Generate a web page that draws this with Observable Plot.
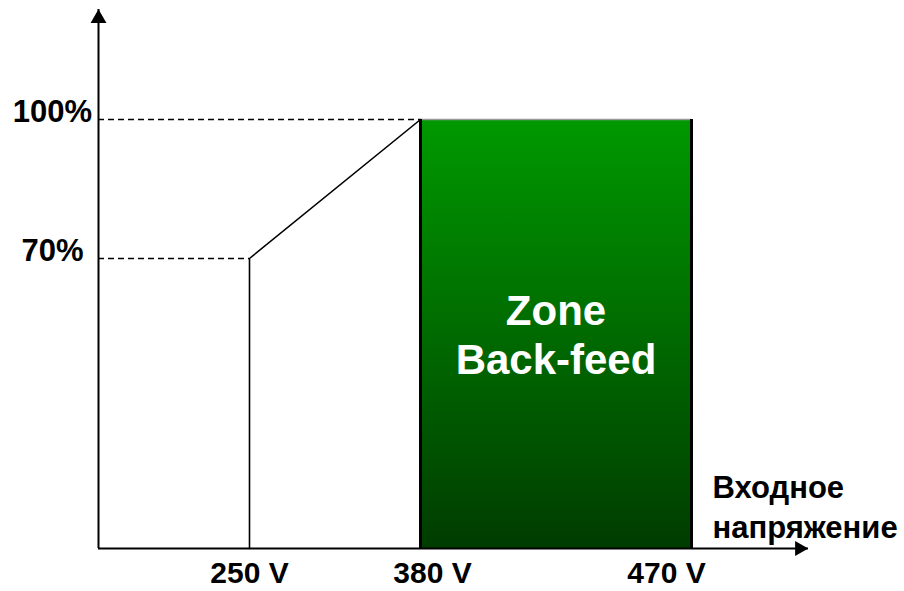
<!DOCTYPE html>
<html>
<head>
<meta charset="utf-8">
<script src="https://cdn.jsdelivr.net/npm/d3@7"></script>
<script src="https://cdn.jsdelivr.net/npm/@observablehq/plot@0.6"></script>
<style>
  html, body { margin: 0; padding: 0; background: #fff; }
  #chart { width: 904px; height: 591px; }
</style>
</head>
<body>
<div id="chart"></div>
<script>
// ---- Data ----
const voltageTicks = [250, 380, 470];
const voltageLabels = ["250 V", "380 V", "470 V"];
const powerLevels = [70, 100];
const powerLabels = ["70%", "100%"];
const profileVoltage = [250, 250, 380];
const profilePower = [0, 70, 100];
const zoneVoltage = [380, 470];
const zonePower = [0, 100];
const zoneLabel = "Zone\nBack-feed";
const xAxisTitle = "Входное\nнапряжение";
// axis extents (in data units)
const xDomain = [130, 250, 380, 470, 510];
const yDomain = [0, 70, 100, 125];

// ---- Derived tables ----
const profile = profileVoltage.map((v, i) => ({v, p: profilePower[i]}));
const levels = powerLevels.map((p, i) => ({p, label: powerLabels[i], v: profileVoltage[i + 1]}));
const xMin = xDomain[0], xMax = xDomain[xDomain.length - 1];
const yMin = yDomain[0], yMax = yDomain[yDomain.length - 1];
const font = "'Liberation Sans', Arial, Helvetica, sans-serif";
const tickDx = [0, 12, -25];

const chart = Plot.plot({
  width: 904,
  height: 591,
  margin: 0,
  style: {background: "#fff", fontFamily: font},
  x: {type: "linear", domain: xDomain, range: [98, 249, 420, 691, 808], axis: null},
  y: {type: "linear", domain: yDomain, range: [548, 258, 119, 9], axis: null},
  marks: [
    // green zone
    Plot.rect([0], {x1: zoneVoltage[0], x2: zoneVoltage[1], y1: zonePower[0], y2: zonePower[1], fill: "url(#zoneGrad)"}),
    Plot.ruleY([zonePower[1]], {x1: zoneVoltage[0], x2: zoneVoltage[1], stroke: "#999", strokeWidth: 1.5}),
    Plot.ruleX(zoneVoltage, {y1: zonePower[0], y2: zonePower[1], stroke: "#000", strokeWidth: 3}),
    // dashed level lines
    Plot.ruleY(levels, {y: "p", x1: xMin, x2: "v", stroke: "#000", strokeWidth: 1.3, strokeDasharray: "6,4"}),
    // profile
    Plot.line(profile, {x: "v", y: "p", stroke: "#000", strokeWidth: 1.6}),
    // axes
    Plot.ruleY([yMin], {x1: xMin, x2: xMax, stroke: "#000", strokeWidth: 2}),
    Plot.ruleX([xMin], {y1: yMin, y2: yMax, stroke: "#000", strokeWidth: 2}),
    Plot.dot([0], {x: xMin, y: yMax, symbol: "triangle", r: 5.9, fill: "#000", stroke: null, dy: 9}),
    Plot.dot([0], {x: xMax, y: yMin, symbol: "triangle", r: 5.6, fill: "#000", stroke: null, rotate: 90, dx: -9}),
    // y labels
    Plot.text(levels, {x: xMin, y: "p", text: "label", dx: -46, dy: -7, fontSize: 31, fontWeight: "bold", fill: "#000"}),
    // x labels
    ...voltageTicks.map((v, i) =>
      Plot.text([voltageLabels[i]], {x: () => v, y: () => yMin, text: d => d, dx: tickDx[i], dy: 25, fontSize: 30, fontWeight: "bold", fill: "#000"})
    ),
    // x axis title
    Plot.text([xAxisTitle], {x: xMax, y: yMin, text: d => d, textAnchor: "start", lineAnchor: "bottom", lineHeight: 1.29, dx: -96, dy: -11, fontSize: 31, fontWeight: "bold", fill: "#000"}),
    // zone label
    Plot.text([zoneLabel], {x: (zoneVoltage[0] + zoneVoltage[1]) / 2, y: (zonePower[0] + zonePower[1]) / 2, text: d => d, lineHeight: 1.17, dy: -8, fontSize: 42, fontWeight: "bold", fill: "#fff"})
  ]
});

const defs = d3.select(chart).insert("defs", ":first-child");
const grad = defs.append("linearGradient").attr("id", "zoneGrad").attr("x1", 0).attr("y1", 0).attr("x2", 0).attr("y2", 1);
grad.append("stop").attr("offset", "0%").attr("stop-color", "#009900");
grad.append("stop").attr("offset", "100%").attr("stop-color", "#003c00");

document.getElementById("chart").appendChild(chart);
</script>
</body>
</html>
